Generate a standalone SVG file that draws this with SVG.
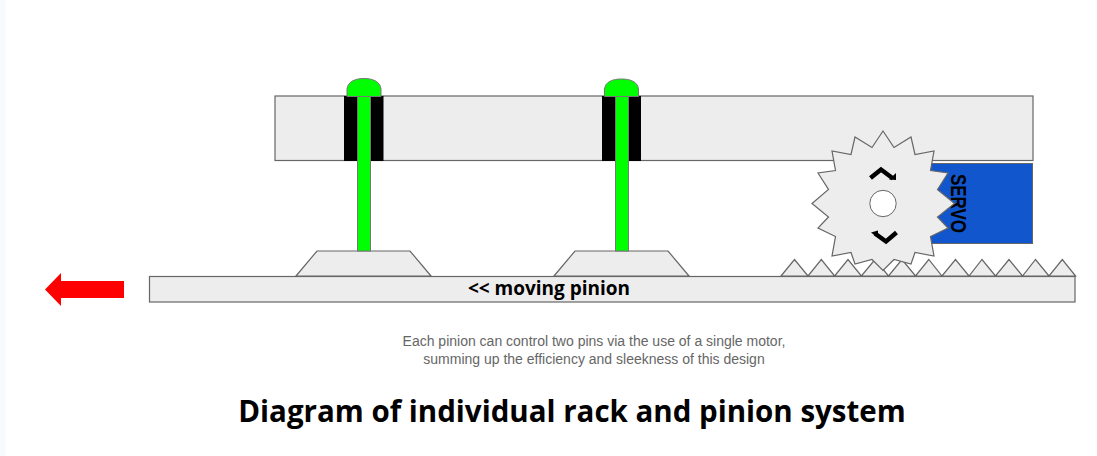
<svg xmlns="http://www.w3.org/2000/svg" width="1097" height="456" viewBox="0 0 1097 456">
<style>
.p{fill:#ededed;stroke:#666;stroke-width:1.2}
.pin{fill:#0f0;stroke:#777;stroke-width:1}
.blk{fill:#000}
.t{font-family:"Open Sans","Noto Sans",sans-serif;font-weight:700;fill:#000}
.cap{font-family:"Liberation Sans",Arial,sans-serif;font-size:14px;fill:#666;text-anchor:middle}
</style>
<rect width="1097" height="456" fill="#fff"/>
<rect width="5.500" height="456" fill="#f8f9fb"/>
<g id="top-bar"><rect class="p" x="275" y="96" width="758" height="64.500"/></g>
<g id="servo"><rect x="925" y="163.500" width="107.500" height="80" fill="#1156cc" stroke="#666" stroke-width="1"/>
<text transform="translate(958.500,203.500) rotate(90) scale(1,1.350)" text-anchor="middle" font-family="Liberation Sans Narrow,Liberation Sans,sans-serif" font-weight="700" font-size="17" y="5.500" fill="#000">SERVO</text></g>
<g id="rack"><rect class="p" x="149.500" y="276.500" width="925.500" height="25.500"/>
<path class="p" d="M781 276 794.500 259.500 808 276 821.300 259.500 834.600 276 848 259.500 861.400 276 875 259.500 888.500 276 902 259.500 915.500 276 928.800 259.500 942 276 955.500 259.500 969 276 982 259.500 995.500 276 1009 259.500 1022.500 276 1035.500 259.500 1049 276 1062.300 259.500 1075.600 276Z"/>
<text class="t" x="549" y="295" font-size="19" text-anchor="middle">&lt;&lt; moving pinion</text></g>
<g id="pin-1"><path class="p" d="M296 276 317 251H410L431 276Z"/><rect class="blk" x="344" y="96" width="39.500" height="65"/><rect class="pin" x="357.500" y="96" width="13" height="155"/><path class="pin" d="M347 96.500V89C348 81 356 78.500 364 78.500S380 81 381 89V96.500Z"/></g>
<g id="pin-2"><path class="p" d="M554 276 575 251H668L689 276Z"/><rect class="blk" x="602" y="96" width="39" height="65"/><rect class="pin" x="615.500" y="96" width="13" height="155"/><path class="pin" d="M604.500 96.500V89C605.500 81.500 613 79 621.500 79S637.500 81.500 638.500 89V96.500Z"/></g>
<g id="pinion"><path class="p" d="M883 131 894 147.500 911 137 915 154.500 934 151 930.500 170.500 948 173 937.500 189.500 954.500 203.500 937.500 217 948 228 930.500 236.500 934 256 915 252.500 911 264 894 259.500 883 270.500 872 259.500 855 264 851 252.500 832 256 835.500 236.500 818 228 828.500 217 812 203.500 828.500 189.500 818 173 835.500 170.500 832 151 851 154.500 855 137 872 147.500Z"/>
<circle cx="883" cy="203.500" r="13.200" fill="#fff" stroke="#666" stroke-width="1"/>
<path d="M870.500 178 881 169.500 893 178.500" fill="none" stroke="#000" stroke-width="4.500"/><path d="M889 179.500 896 173 896 180Z" fill="#000"/>
<path d="M896.500 232.500 886 241.500 875 233.500" fill="none" stroke="#000" stroke-width="4.500"/><path d="M871 232.500 878 230.500 878 238Z" fill="#000"/></g>
<g id="direction-arrow"><path d="M45 289.500 61 273V281H124V298H61V306Z" fill="#f00"/></g>
<text class="cap" x="594" y="346">Each pinion can control two pins via the use of a single motor,</text>
<text class="cap" x="594" y="364">summing up the efficiency and sleekness of this design</text>
<text class="t" x="572" y="422" font-size="29.500" text-anchor="middle">Diagram of individual rack and pinion system</text>
</svg>
